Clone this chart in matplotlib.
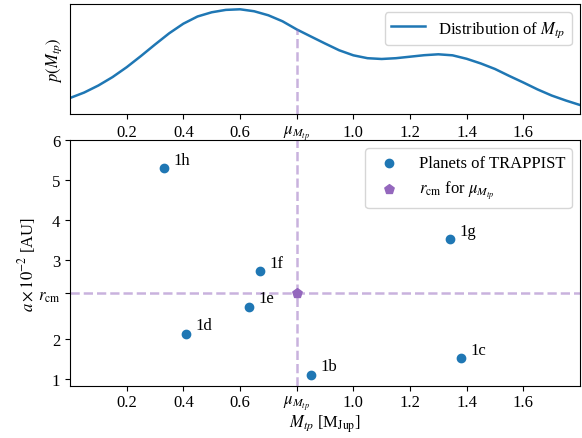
import matplotlib
matplotlib.use("Agg")
import matplotlib.pyplot as plt

plt.rcParams['font.family'] = ['Liberation Serif', 'DejaVu Serif']
plt.rcParams['mathtext.fontset'] = 'stix'
plt.rcParams['font.size'] = 12

# distribution of M_tp
m_grid = [0.00, 0.05, 0.10, 0.15, 0.20, 0.25, 0.30, 0.35, 0.40, 0.45,
          0.50, 0.55, 0.60, 0.65, 0.70, 0.75, 0.80, 0.85, 0.90, 0.95,
          1.00, 1.05, 1.10, 1.15, 1.20, 1.25, 1.30, 1.35, 1.40, 1.45,
          1.50, 1.55, 1.60, 1.65, 1.70, 1.75, 1.80]
p_grid = [0.267, 0.358, 0.475, 0.615, 0.780, 0.965, 1.158, 1.345, 1.505, 1.625,
          1.695, 1.735, 1.745, 1.712, 1.645, 1.545, 1.410, 1.292, 1.175, 1.062,
          0.978, 0.930, 0.917, 0.930, 0.955, 0.980, 0.995, 0.978, 0.920, 0.842,
          0.750, 0.635, 0.525, 0.410, 0.308, 0.225, 0.150]

# TRAPPIST planets
planet_names = ['1b', '1c', '1d', '1e', '1f', '1g', '1h']
planet_mass = [0.85, 1.38, 0.41, 0.63, 0.67, 1.34, 0.33]
planet_a = [1.11, 1.52, 2.14, 2.82, 3.71, 4.51, 6.30]

mu_mtp = 0.80
p_mu = 1.41
r_cm = 3.15

x_ticks = [0.2, 0.4, 0.6, mu_mtp, 1.0, 1.2, 1.4, 1.6]
x_ticklabels = ['0.2', '0.4', '0.6', r'$\mu_{M_{tp}}$', '1.0', '1.2', '1.4', '1.6']
y_ticks = [1, 2, r_cm, 4, 5, 6, 7]
y_ticklabels = ['1', '2', r'$r_{\rm cm}$', '3', '4', '5', '6']

fig = plt.figure(figsize=(5.82, 4.39), dpi=100)
ax_top = fig.add_axes([0.1203, 0.738, 0.8763, 0.2506])
ax = fig.add_axes([0.1203, 0.1185, 0.8763, 0.5603])

# top panel: distribution
ax_top.plot(m_grid, p_grid, color='tab:blue', lw=1.8, label=r'Distribution of $M_{tp}$')
ax_top.vlines(mu_mtp, 0, p_mu, color='tab:purple', alpha=0.5, linestyles='--', lw=1.8)
ax_top.set_xlim(0, 1.8)
ax_top.set_ylim(0, 1.833)
ax_top.set_xticks(x_ticks)
ax_top.set_xticklabels(x_ticklabels)
ax_top.set_yticks([])
ax_top.set_ylabel(r'$p(M_{tp})$')
ax_top.legend(loc='upper right')

# bottom panel: planets
ax.axvline(mu_mtp, color='tab:purple', alpha=0.5, ls='--', lw=1.8)
ax.axhline(r_cm, color='tab:purple', alpha=0.5, ls='--', lw=1.8)
ax.scatter(planet_mass, planet_a, color='tab:blue', s=36, zorder=3,
           label='Planets of TRAPPIST')
ax.scatter([mu_mtp], [r_cm], color='tab:purple', marker='p', s=50, zorder=3,
           label=r'$r_{\rm cm}$ for $\mu_{M_{tp}}$')
for name, m, a in zip(planet_names, planet_mass, planet_a):
    ax.annotate(name, (m, a), xytext=(7, 3), textcoords='offset points')

ax.set_xlim(0, 1.8)
ax.set_ylim(0.825, 7)
ax.set_xticks(x_ticks)
ax.set_xticklabels(x_ticklabels)
ax.tick_params(axis='x', pad=2.5)
ax.set_yticks(y_ticks)
ax.set_yticklabels(y_ticklabels)
ax.set_xlabel(r'$M_{tp}$ [M$_{\rm Jup}$]', labelpad=0)
ax.set_ylabel(r'$a\times10^{-2}$ [AU]', labelpad=0)
ax.legend(loc='upper right')

fig.savefig('out.png', dpi=100)
